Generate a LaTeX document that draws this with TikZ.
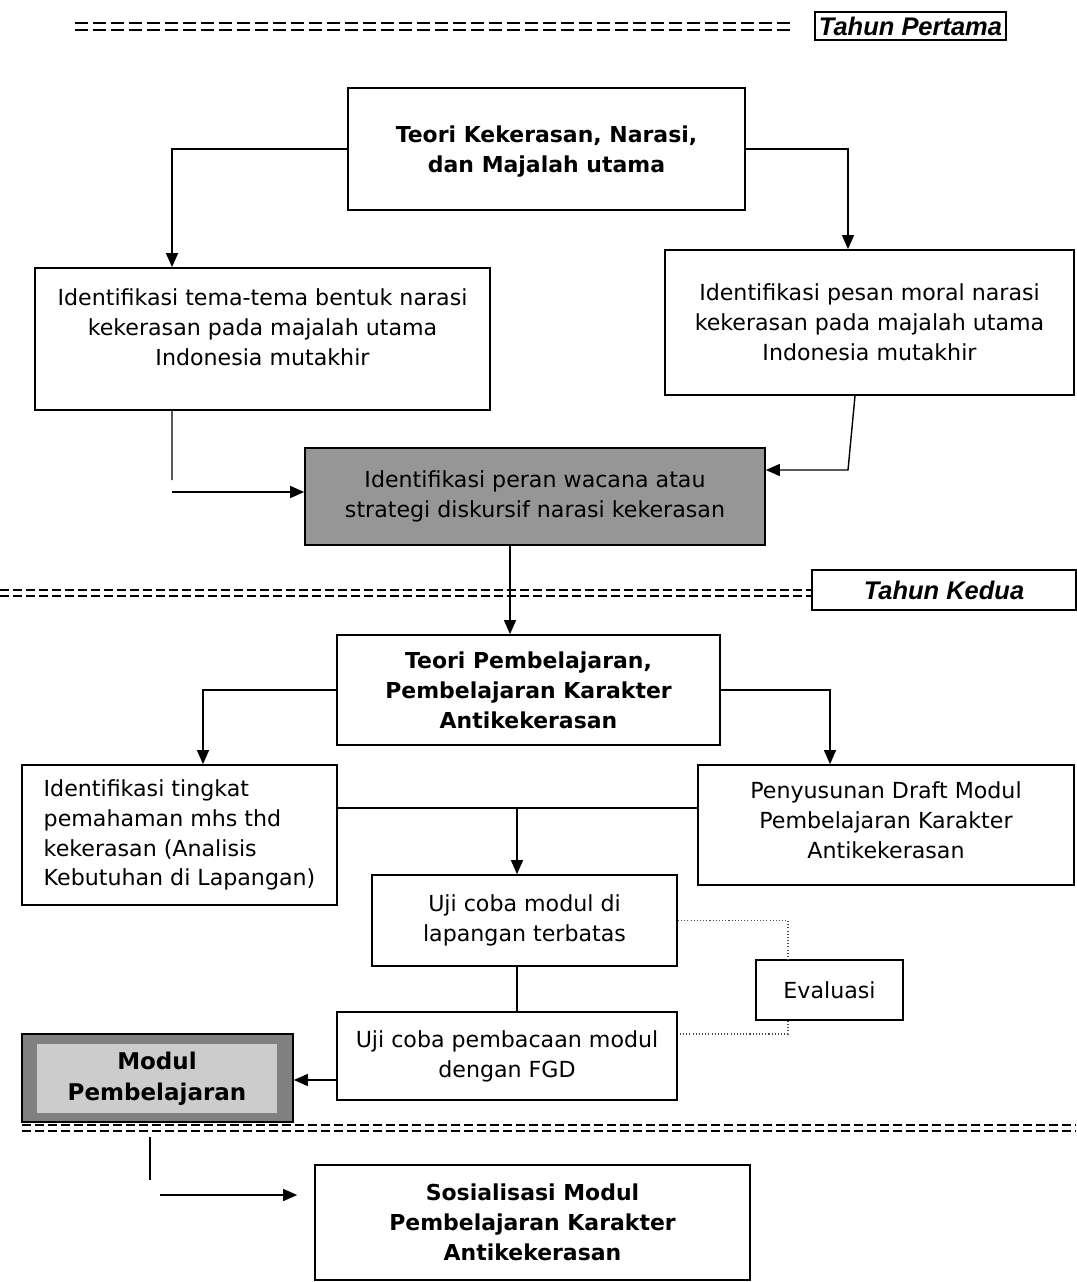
\documentclass[tikz,border=0pt]{standalone}
\usepackage{fontspec}
\setmainfont{DejaVu Sans}
\newfontfamily\yearfont{Liberation Sans}
\usetikzlibrary{arrows.meta, positioning, calc}
\definecolor{boxgray}{RGB}{150,150,150}
\definecolor{framegray}{RGB}{128,128,128}
\definecolor{innergray}{RGB}{204,204,204}

\begin{document}
\begin{tikzpicture}[x=0.02cm, y=-0.02cm,
  tbox/.style={draw, line width=1pt, align=center, inner sep=3pt, font=\fontsize{12.6}{17}\selectfont},
  hbox/.style={tbox, font=\fontsize{12.5}{17}\selectfont\bfseries},
  yearbox/.style={draw, line width=1pt, inner sep=0pt, font=\yearfont\fontsize{14.5}{16}\selectfont\bfseries\itshape},
  arr/.style={-{Triangle[length=0.28cm, width=0.24cm]}, line width=0.8pt},
  lne/.style={line width=0.8pt},
  dotline/.style={line width=0.7pt, black!70, dash pattern=on 0.6pt off 1.2pt},
  eqline/.style={line width=1.6pt, dash pattern=on 0.27cm off 0.09cm},
  sepline/.style={line width=1.4pt, dash pattern=on 0.18cm off 0.08cm}
]
  \useasboundingbox (0,0) rectangle (1076,1282);

  \foreach \yy in {23,30}
    \draw[eqline] (75,\yy) -- (790,\yy);
  \node[yearbox, minimum width=3.82cm, minimum height=0.56cm] (tahun1) at (910.5,26) {Tahun Pertama};

  \node[hbox, text depth=-0.26cm, minimum width=7.94cm, minimum height=2.44cm] (teori1) at (546.5,149) {Teori Kekerasan, Narasi,\\ dan Majalah utama};
  \node[tbox, text depth=0.48cm, minimum width=9.1cm, minimum height=2.84cm] (tema) at (262.5,339) {Identifikasi tema-tema bentuk narasi\\ kekerasan pada majalah utama\\ Indonesia mutakhir};
  \node[tbox, minimum width=8.18cm, minimum height=2.9cm] (pesan) at (869.5,322.5) {Identifikasi pesan moral narasi\\ kekerasan pada majalah utama\\ Indonesia mutakhir};
  \node[tbox, fill=boxgray, minimum width=9.2cm, minimum height=1.94cm] (peran) at (535,496.5) {Identifikasi peran wacana atau\\ strategi diskursif narasi kekerasan};

  \coordinate (c1) at (172,480);
  \coordinate (c2) at (172,492);
  \coordinate (c3) at (848,470);
  \draw[arr] (teori1.west) -| ([xshift=-1.81cm]tema.north);
  \draw[arr] (teori1.east) -| ([xshift=-0.43cm]pesan.north);
  \draw[lne] ([xshift=-1.81cm]tema.south) -- (c1);
  \draw[arr] (c2) -- (c2 -| peran.west);
  \draw[arr] ([xshift=-0.29cm]pesan.south) -- (c3) -- (c3 -| peran.east);

  \foreach \yy in {590,596}
    \draw[sepline] (0,\yy) -- (812,\yy);
  \node[yearbox, minimum width=5.28cm, minimum height=0.8cm] (tahun2) at (944,590) {Tahun Kedua};

  \node[hbox, minimum width=7.66cm, minimum height=2.2cm] (teori2) at (528.5,690) {Teori Pembelajaran,\\ Pembelajaran Karakter\\ Antikekerasan};
  \node[tbox, align=left, minimum width=6.3cm, minimum height=2.8cm] (tingkat) at (179.5,835) {Identifikasi tingkat\\ pemahaman mhs thd\\ kekerasan (Analisis\\ Kebutuhan di Lapangan)};
  \node[tbox, text depth=0.2cm, minimum width=7.52cm, minimum height=2.4cm] (draft) at (886,825) {Penyusunan Draft Modul\\ Pembelajaran Karakter\\ Antikekerasan};
  \node[tbox, minimum width=6.1cm, minimum height=1.82cm] (ujimodul) at (524.5,920.5) {Uji coba modul di\\ lapangan terbatas};
  \node[tbox, minimum width=6.8cm, minimum height=1.76cm] (ujifgd) at (507,1056) {Uji coba pembacaan modul\\ dengan FGD};
  \node[tbox, minimum width=2.94cm, minimum height=1.2cm] (evaluasi) at (829.5,990) {Evaluasi};
  \node[draw, line width=1pt, fill=framegray, minimum width=5.42cm, minimum height=1.76cm] (modulbg) at (157.5,1078) {};
  \node[fill=innergray, align=center, minimum width=4.8cm, minimum height=1.38cm, font=\fontsize{13.1}{17.5}\selectfont\bfseries] (modul) at (157,1078.5) {Modul\\ Pembelajaran};

  \coordinate (j1) at (517,808);
  \draw[arr] ([xshift=-0.5cm]peran.south) -- ([xshift=-0.5cm]peran.south |- teori2.north);
  \draw[arr] (teori2.west) -| ([xshift=0.47cm]tingkat.north);
  \draw[arr] (teori2.east) -| ([xshift=-1.12cm]draft.north);
  \draw[lne] ([yshift=0.54cm]tingkat.east) -- ([yshift=0.54cm]tingkat.east -| draft.west);
  \draw[arr] (j1) -- (j1 |- ujimodul.north);
  \draw[lne] (j1 |- ujimodul.south) -- (j1 |- ujifgd.north);
  \draw[arr] ([yshift=-0.48cm]ujifgd.west) -- ([yshift=-0.48cm]ujifgd.west -| modulbg.east);
  \draw[dotline] (ujimodul.east) -| ([xshift=-0.83cm]evaluasi.north);
  \draw[dotline] ([xshift=-0.83cm]evaluasi.south) |- ([yshift=0.44cm]ujifgd.east);

  \foreach \yy in {1125,1131}
    \draw[sepline] (22,\yy) -- (1076,\yy);

  \node[hbox, minimum width=8.7cm, minimum height=2.3cm] (sosial) at (532.5,1222.5) {Sosialisasi Modul\\ Pembelajaran Karakter\\ Antikekerasan};
  \coordinate (c5) at (150,1137);
  \coordinate (c6) at (150,1180);
  \coordinate (c7) at (160,1195);
  \draw[lne] (c5) -- (c6);
  \draw[arr, shorten >=0.34cm] (c7) -- (c7 -| sosial.west);
\end{tikzpicture}
\end{document}
